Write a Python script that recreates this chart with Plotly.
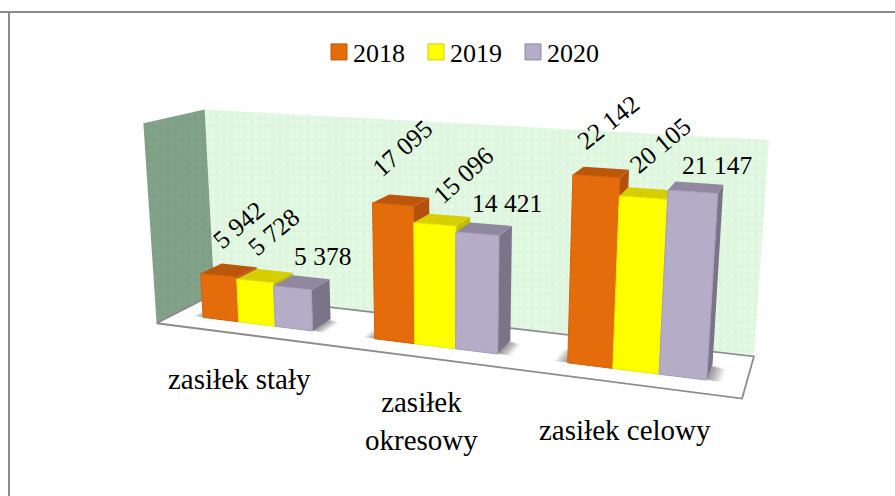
import numpy as np
import plotly.graph_objects as go

# ---- data ----
categories = ["zasiłek stały", "zasiłek<br>okresowy", "zasiłek celowy"]
years = ["2018", "2019", "2020"]
values_2018 = [5942, 17095, 22142]
values_2019 = [5728, 15096, 20105]
values_2020 = [5378, 14421, 21147]
label_angles = [[-40, -42, -38], [-40, -42, -40], [0, 0, 0]]
value_max = 25700

# ---- style ----
front = ["#E46C0A", "#FFFF00", "#B5ADC8"]
edge = ["#D0620A", "#EDED00", "#A69EB9"]
top = ["#BB560A", "#D6CE00", "#8F889E"]
side = ["#B5500C", "#C4BC00", "#7B7489"]
W, H = 895, 496

# ---- perspective camera calibrated on the chart box corners (X,Y,Z) -> screen ----
calib = [
    ((0, 0, 0), (157, 324)), ((3, 0, 0), (742, 398)),
    ((3, 1, 0), (754, 357)), ((0, 1, 0), (214, 293)),
    ((0, 1, 1), (205, 110)), ((3, 1, 1), (769, 140)),
    ((0, 0, 1), (143, 123)),
]
A, b_ = [], []
for (X, Y, Z), (u, v) in calib:
    A.append([X, Y, Z, 1, 0, 0, 0, 0, -u*X, -u*Y, -u*Z]); b_.append(u)
    A.append([0, 0, 0, 0, X, Y, Z, 1, -v*X, -v*Y, -v*Z]); b_.append(v)
P = np.append(np.linalg.lstsq(np.array(A, float), np.array(b_, float), rcond=None)[0], 1).reshape(3, 4)

def proj(pts):
    pts = np.c_[np.array(pts, float), np.ones(len(pts))]
    q = (P @ pts.T).T
    q = q[:, :2] / q[:, 2:]
    return list(q[:, 0]) + [q[0, 0]], list(q[:, 1]) + [q[0, 1]]

fig = go.Figure()

def poly(pts, color, line=None, lw=0, pattern=None):
    x, y = proj(pts)
    fig.add_trace(go.Scatter(
        x=x, y=y, mode="lines", fill="toself", fillcolor=color, showlegend=False,
        hoverinfo="skip", fillpattern=pattern,
        line=dict(color=line or color, width=lw if line else 0)))

# walls and floor
poly([(0, 1, 0), (3, 1, 0), (3, 1, 1), (0, 1, 1)], "#DDF6DD",
     pattern=dict(shape=".", bgcolor="#DDF6DD", fgcolor="#EFFBEE", size=7, solidity=0.35))
poly([(0, 0, 0), (0, 1, 0), (0, 1, 1), (0, 0, 1)], "#7F9F86",
     pattern=dict(shape=".", bgcolor="#7F9F86", fgcolor="#8AA890", size=7, solidity=0.3))
poly([(0, 0, 0), (3, 0, 0), (3, 1, 0), (0, 1, 0)], "#FFFFFF", line="#8C8C8C", lw=1.8)

# bars
series = [values_2018, values_2019, values_2020]
bw, gap = 0.217, 0.35
y0, y1 = 0.30, 0.67
for g in range(3):
    gx0 = g + gap / 2
    gx1 = gx0 + 3 * bw
    for k in (0.065, 0.055, 0.047, 0.04, 0.032, 0.025, 0.018, 0.01):
        poly([(gx0 - k, y0 + 0.03 - k * 0.5, 0), (gx1 + k, y0 + 0.03 - k * 0.5, 0),
              (gx1 + k, y1 - k, 0), (gx0 - k, y1 - k, 0)], "rgba(60,60,60,0.08)")
    for s in range(3):
        x0 = gx0 + s * bw
        x1 = x0 + bw
        z = series[s][g] / value_max
        poly([(x1, y0, 0), (x1, y1, 0), (x1, y1, z), (x1, y0, z)], side[s])
        poly([(x0, y0, z), (x1, y0, z), (x1, y1, z), (x0, y1, z)], top[s])
        poly([(x0, y0, 0), (x1, y0, 0), (x1, y0, z), (x0, y0, z)], front[s], line=edge[s], lw=1)

# legend entries
for s in range(3):
    fig.add_trace(go.Scatter(x=[None], y=[None], mode="markers", name=years[s],
                             marker=dict(symbol="square", size=16, color=front[s],
                                         line=dict(color=top[s], width=1))))

serif = "Liberation Serif"
# value labels
label_xy = [[(238, 225), (402, 148), (608, 122)],
            [(273, 232), (463, 175), (660, 145)],
            [(322, 256), (507, 203), (717, 165)]]
for s in range(3):
    for g in range(3):
        txt = f"{series[s][g]:,}".replace(",", "\u00a0")
        fig.add_annotation(x=label_xy[s][g][0], y=label_xy[s][g][1], text=txt, showarrow=False,
                           textangle=label_angles[s][g], font=dict(family=serif, size=25.5, color="#000"))
# category labels
for c, xy in zip(categories, [(239, 379), (421, 421), (625, 430)]):
    fig.add_annotation(x=xy[0], y=xy[1], text=c, showarrow=False, align="center",
                       font=dict(family=serif, size=29, color="#000"))

fig.update_layout(
    width=W, height=H, margin=dict(l=0, r=0, t=0, b=0),
    paper_bgcolor="white", plot_bgcolor="white",
    xaxis=dict(range=[0, W], visible=False, fixedrange=True),
    yaxis=dict(range=[H, 0], visible=False, fixedrange=True),
    legend=dict(orientation="h", x=313 / W, xanchor="left", y=1 - 52 / H, yanchor="middle",
                font=dict(family=serif, size=26, color="#000"), bgcolor="rgba(0,0,0,0)",
                itemclick=False, itemdoubleclick=False),
    showlegend=True,
    shapes=[
        dict(type="line", xref="paper", yref="paper", x0=0, x1=1, y0=1 - 12 / H, y1=1 - 12 / H,
             line=dict(color="#8C8C8C", width=2)),
        dict(type="line", xref="paper", yref="paper", x0=9 / W, x1=9 / W, y0=0, y1=1 - 12 / H,
             line=dict(color="#8C8C8C", width=2)),
    ],
)
post = """
document.body.style.margin='0';
document.documentElement.style.overflow='hidden';
var gd=document.getElementById('{plot_id}');
function nudge(){document.querySelectorAll('.legend .legendpoints path.scatterpts').forEach(function(p){p.setAttribute('transform','translate(26,0)');});}
gd.on('plotly_afterplot',nudge);nudge();setTimeout(nudge,100);
"""
fig.write_html("out.html", config=dict(displayModeBar=False), post_script=post)
